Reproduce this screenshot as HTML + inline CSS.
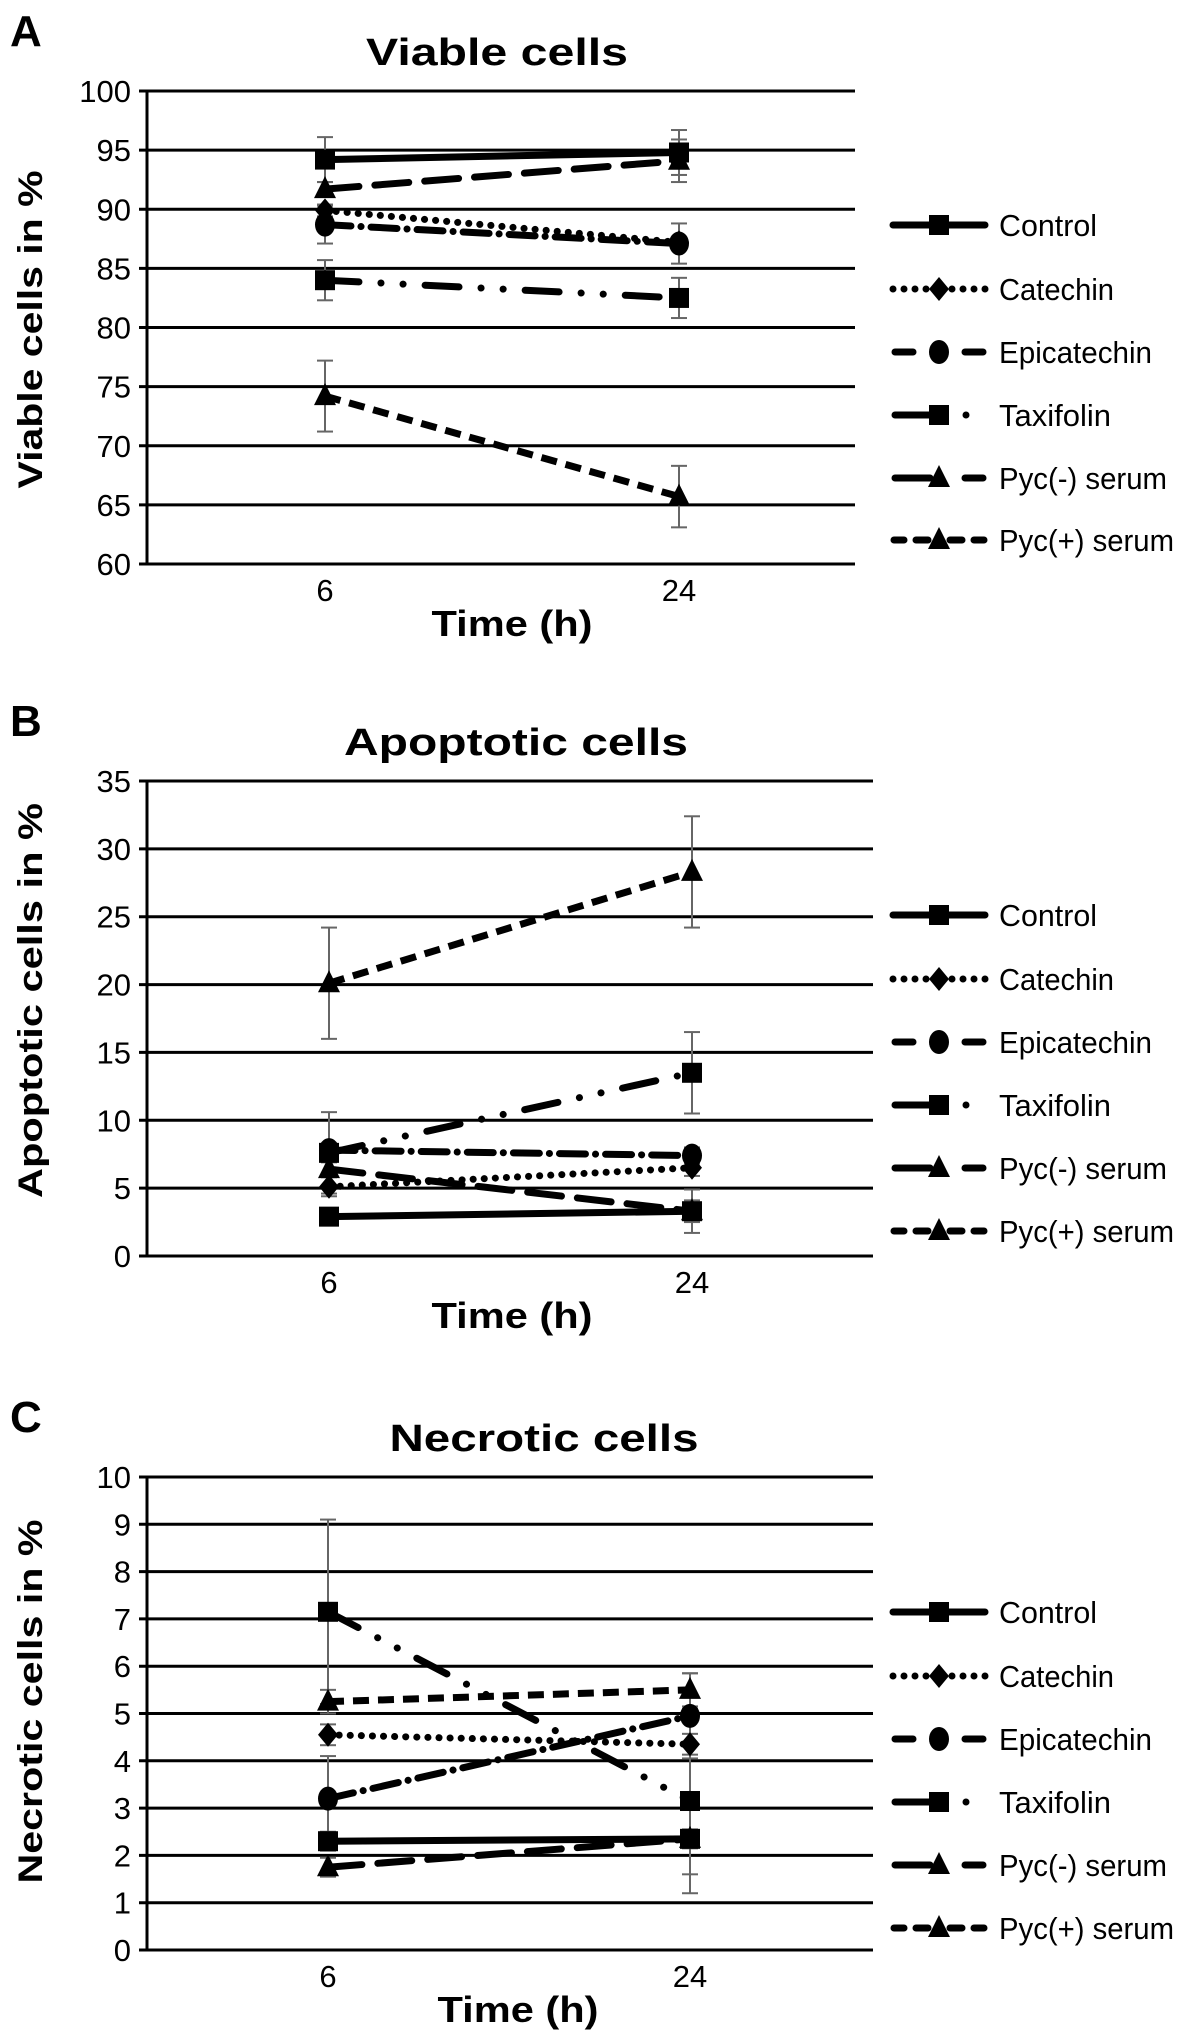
<!DOCTYPE html>
<html><head><meta charset="utf-8"><style>
html,body{margin:0;padding:0;background:#fff;}
svg{display:block;}
text{font-family:"Liberation Sans",Arial,sans-serif;fill:#000;}
</style></head>
<body>
<svg id="fig" width="1186" height="2044" viewBox="0 0 1186 2044" xmlns="http://www.w3.org/2000/svg"></svg>
<script>
// ---- data ----
const seriesNames = ["Control","Catechin","Epicatechin","Taxifolin","Pyc(-) serum","Pyc(+) serum"];
const timeLabels = ["6","24"];
// Panel A: viable cells
const viableValues = [[94.2,94.8],[89.9,87.2],[88.7,87.1],[84.0,82.5],[91.7,94.1],[74.2,65.7]];
const viableErrors = [[1.9,1.9],[0.5,0.4],[1.6,1.7],[1.7,1.7],[0.6,1.8],[3.0,2.6]];
const viableTicks = ["60","65","70","75","80","85","90","95","100"];
// Panel B: apoptotic cells
const apopValues = [[2.9,3.3],[5.1,6.5],[7.8,7.4],[7.6,13.5],[6.4,3.3],[20.1,28.3]];
const apopErrors = [[0.3,0.8],[0.7,0.6],[0.5,0.6],[3.0,3.0],[0.5,1.6],[4.1,4.1]];
const apopTicks = ["0","5","10","15","20","25","30","35"];
// Panel C: necrotic cells
const necValues = [[2.3,2.35],[4.55,4.35],[3.2,4.95],[7.15,3.15],[1.75,2.35],[5.25,5.5]];
const necErrors = [[0.2,0.2],[0.22,0.22],[0.9,0.9],[1.95,1.95],[0.2,0.75],[0.25,0.35]];
const necTicks = ["0","1","2","3","4","5","6","7","8","9","10"];

const NS="http://www.w3.org/2000/svg";
const svg=document.getElementById('fig');
function mk(tag,attrs,parent){const e=document.createElementNS(NS,tag);for(const k in attrs)e.setAttribute(k,attrs[k]);(parent||svg).appendChild(e);return e;}

const styles=[
 {dash:"",cap:"butt",marker:"square"},
 {dash:"0.1 11",cap:"round",marker:"diamond"},
 {dash:"26 10 0.1 10",cap:"round",marker:"circle"},
 {dash:"34 22 0.1 22 0.1 22",cap:"round",marker:"square"},
 {dash:"34 16",cap:"round",marker:"triangle"},
 {dash:"16 9",cap:"butt",marker:"triangle"}
];
const legendLens=[98,115,153,112,168,175];

function marker(g,type,x,y){
  if(type==="square") return mk('rect',{x:x-10,y:y-10,width:20,height:20,fill:'#000'},g);
  if(type==="diamond") return mk('polygon',{points:`${x},${y-12} ${x+10},${y} ${x},${y+12} ${x-10},${y}`,fill:'#000'},g);
  if(type==="circle") return mk('ellipse',{cx:x,cy:y,rx:10,ry:12,fill:'#000'},g);
  return mk('polygon',{points:`${x},${y-13} ${x+11},${y+9} ${x-11},${y+9}`,fill:'#000'},g);
}

function legendLine(g,s,ly){
  const seg=(x1,x2,extra)=>{const a={x1:x1,x2:x2,y1:ly,y2:ly,stroke:'#000','stroke-width':7,'stroke-linecap':'round'};Object.assign(a,extra||{});mk('line',a,g);};
  const dot=(x)=>mk('circle',{cx:x,cy:ly,r:3.5,fill:'#000'},g);
  if(s===0){seg(893,985);}
  else if(s===1){[893,904,915,926,952,963,974,985].forEach(dot);}
  else if(s===2){seg(895,913);seg(965,983);}
  else if(s===3){seg(895,930);dot(966);}
  else if(s===4){seg(895,930);seg(965,983);}
  else {seg(894,904);seg(916,928);seg(950,962);seg(974,984);}
}

function panel(cfg){
  const g=mk('g',{});
  
  
  const ymin=cfg.ymin,ymax=cfg.ymax;
  const yScale=v=>cfg.bottom-(v-ymin)/(ymax-ymin)*(cfg.bottom-cfg.top);
  const xPos=[cfg.x6,cfg.x24];
  const xScale=i=>xPos[i];
  const L=mk('text',{x:10,y:cfg.top-45,'font-size':44,'font-weight':'bold'},g);L.textContent=cfg.letter;
  
  const T=mk('text',{x:cfg.titleX,y:cfg.top-26,'font-size':38,'font-weight':'bold','text-anchor':'middle',textLength:cfg.titleLen,lengthAdjust:'spacingAndGlyphs'},g);T.textContent=cfg.title;
  
  cfg.ticks.forEach(t=>{
    const y=yScale(parseFloat(t));
    const ln=mk('line',{x1:139,x2:cfg.right,y1:y,y2:y,stroke:'#000','stroke-width':3},g);
    
    const tx=mk('text',{x:131,y:y+11,'font-size':31,'text-anchor':'end'},g);tx.textContent=t;
    
  });
  const ax=mk('line',{x1:147,x2:147,y1:cfg.top,y2:cfg.bottom+1.5,stroke:'#000','stroke-width':3},g);
  
  timeLabels.forEach((t,i)=>{
    const tx=mk('text',{x:xScale(i),y:cfg.bottom+37,'font-size':31,'text-anchor':'middle'},g);tx.textContent=t;
    
  });
  const xt=mk('text',{x:cfg.xTitleX,y:cfg.bottom+72,'font-size':36,'font-weight':'bold','text-anchor':'middle',textLength:161,lengthAdjust:'spacingAndGlyphs'},g);xt.textContent="Time (h)";
  
  const yc=(cfg.top+cfg.bottom)/2+cfg.yTitleOff;
  const yt=mk('text',{x:0,y:0,'font-size':34,'font-weight':'bold','text-anchor':'middle',transform:`translate(42,${yc}) rotate(-90)`,textLength:cfg.yTitleLen,lengthAdjust:'spacingAndGlyphs'},g);yt.textContent=cfg.yTitle;
  
  cfg.values.forEach((vals,s)=>{
    vals.forEach((v,i)=>{
      const e=cfg.errors[s][i];const x=xScale(i);
      const eb=mk('g',{stroke:'#666','stroke-width':2},g);
      
      mk('line',{x1:x,x2:x,y1:yScale(v-e),y2:yScale(v+e)},eb);
      mk('line',{x1:x-8,x2:x+8,y1:yScale(v-e),y2:yScale(v-e)},eb);
      mk('line',{x1:x-8,x2:x+8,y1:yScale(v+e),y2:yScale(v+e)},eb);
    });
  });
  cfg.values.forEach((vals,s)=>{
    const st=styles[s];
    const sg=mk('g',{},g);
    
    
    const a={x1:xScale(0),y1:yScale(vals[0]),x2:xScale(1),y2:yScale(vals[1]),stroke:'#000','stroke-width':7,'stroke-linecap':st.cap};
    if(st.dash)a['stroke-dasharray']=st.dash;
    mk('line',a,sg);
    vals.forEach((v,i)=>{const m=marker(sg,st.marker,xScale(i),yScale(v));});
  });
  cfg.legendY.forEach((ly,s)=>{
    const st=styles[s];
    const lg=mk('g',{},g);
    
    
    legendLine(lg,s,ly);
    marker(lg,st.marker,939,ly);
    const t=mk('text',{x:999,y:ly+11,'font-size':31,textLength:legendLens[s],lengthAdjust:'spacingAndGlyphs'},lg);t.textContent=seriesNames[s];
  });
}

panel({id:'viable',letter:'A',title:'Viable cells',titleX:497,titleLen:262,top:91,bottom:564,right:855,x6:325,x24:679,
 ymin:60,ymax:100,ticks:viableTicks,values:viableValues,errors:viableErrors,
 yTitle:'Viable cells in %',yTitleLen:318,yTitleOff:2,xTitleX:512,
 legendY:[225,289,352,415,478,540]});
panel({id:'apoptotic',letter:'B',title:'Apoptotic cells',titleX:516,titleLen:344,top:781,bottom:1256,right:873,x6:329,x24:692,
 ymin:0,ymax:35,ticks:apopTicks,values:apopValues,errors:apopErrors,
 yTitle:'Apoptotic cells in %',yTitleLen:395,yTitleOff:-18,xTitleX:512,
 legendY:[915,979,1042,1105,1168,1231]});
panel({id:'necrotic',letter:'C',title:'Necrotic cells',titleX:544,titleLen:309,top:1477,bottom:1950,right:873,x6:328,x24:690,
 ymin:0,ymax:10,ticks:necTicks,values:necValues,errors:necErrors,
 yTitle:'Necrotic cells in %',yTitleLen:364,yTitleOff:-12,xTitleX:518,
 legendY:[1612,1676,1739,1802,1865,1928]});
</script>
</body></html>
